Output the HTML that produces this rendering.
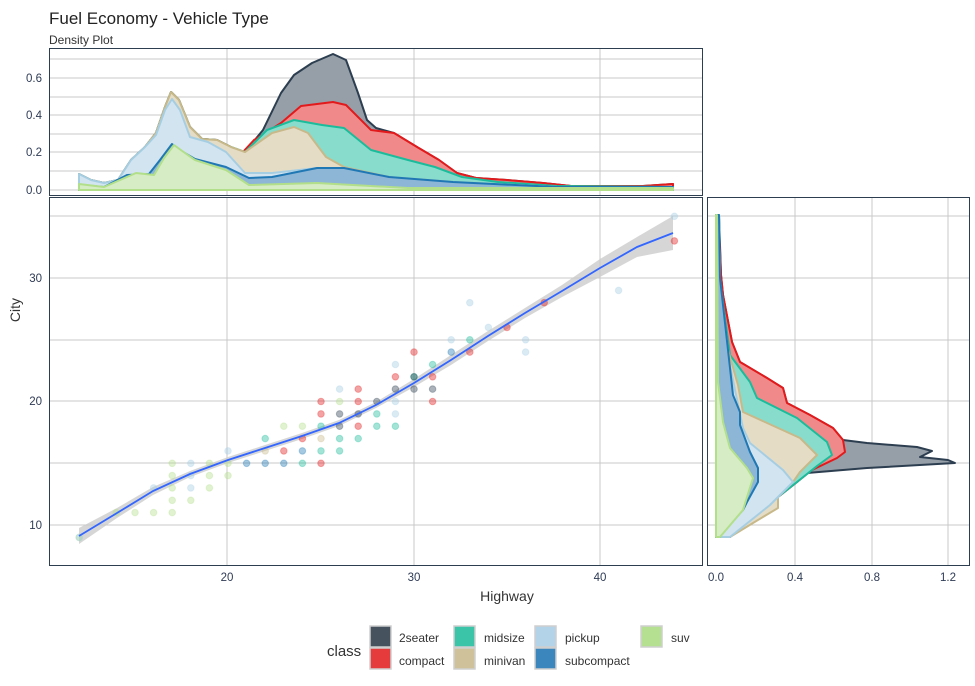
<!DOCTYPE html>
<html><head><meta charset="utf-8"><style>
body{margin:0;background:#fff;}
svg{display:block;font-family:"Liberation Sans",Arial,sans-serif;}
</style></head><body>
<svg id="s" width="975" height="686" viewBox="0 0 975 686" xmlns="http://www.w3.org/2000/svg">
<rect width="975" height="686" fill="#fff"/>
<text x="49" y="24" font-size="17" fill="#222">Fuel Economy - Vehicle Type</text>
<text x="49" y="44" font-size="12" fill="#333">Density Plot</text>

<!-- TOP PANEL -->
<g stroke="#c8c8c8" stroke-width="1">
<line x1="49" x2="702" y1="59" y2="59"/><line x1="49" x2="702" y1="78" y2="78"/><line x1="49" x2="702" y1="97" y2="97"/><line x1="49" x2="702" y1="115" y2="115"/><line x1="49" x2="702" y1="134" y2="134"/><line x1="49" x2="702" y1="152" y2="152"/><line x1="49" x2="702" y1="171" y2="171"/><line x1="49" x2="702" y1="190" y2="190"/>
<line x1="227" x2="227" y1="48" y2="195"/><line x1="414" x2="414" y1="48" y2="195"/><line x1="600" x2="600" y1="48" y2="195"/>
</g>
<g stroke-width="2" stroke-linejoin="round">
<polygon fill="#969fa8" stroke="#2c3e50" points="79,190 79,174 91,180 104,183 118,180 131,160 145,147 156,133 165,107 171,92 179,100 190,127 202,139 217,140 231,147 242,153 249,147 263,130 281,93 294,75 312,63 333,54 346,60 358,93 367,120 376,128 394,133 417,147 439,160 457,173 476,178 507,180 543,183 571,186 643,186 673,184 673,190"/>
<polygon fill="#f08a8a" stroke="#e31a1c" points="79,190 79,174 91,180 104,183 118,180 131,160 145,147 156,133 165,107 171,92 179,100 190,127 202,139 217,140 231,147 242,153 254,140 281,123 301,106 333,102 346,105 371,130 394,133 417,147 439,160 457,173 476,178 507,180 543,183 571,186 643,186 673,184 673,190"/>
<polygon fill="#88dccb" stroke="#1abc9c" points="79,190 79,174 91,180 104,183 118,180 131,160 145,147 156,133 165,107 171,92 179,100 190,127 202,139 217,140 231,147 245,152 267,130 294,120 322,125 344,128 371,150 408,160 435,167 462,177 498,182 557,186 673,187 673,190"/>
<polygon fill="#e5dcc6" stroke="#c8b98a" points="79,190 79,174 91,180 104,183 118,180 131,160 145,147 156,133 165,107 171,92 179,100 190,127 202,139 217,140 231,147 245,152 272,133 294,127 308,133 326,157 344,167 389,177 453,182 557,187 673,187 673,190"/>
<polygon fill="#d2e4f0" stroke="#a6cee3" points="79,190 79,174 91,180 104,183 118,180 131,160 145,147 156,135 165,110 172,99 180,110 190,137 208,142 226,152 245,173 272,173 317,168 344,168 389,177 453,182 557,187 673,187 673,190"/>
<polygon fill="#8db5d6" stroke="#1f78b4" points="79,190 79,185 104,187 127,175 149,174 160,160 172,144 183,152 195,159 226,167 249,178 272,177 317,168 344,168 389,177 453,182 557,187 673,187 673,190"/>
<polygon fill="#d6ecc4" stroke="#b2df8a" points="79,190 79,184 104,187 120,180 136,173 154,175 164,158 174,145 185,153 195,160 226,170 249,185 317,183 408,188 673,188 673,190"/>
</g>
<rect x="49.5" y="48.5" width="653" height="147" fill="none" stroke="#2c3e50" stroke-width="1"/>
<g font-size="11.5" fill="#2e3b55" text-anchor="end">
<text x="42" y="194">0.0</text><text x="42" y="156">0.2</text><text x="42" y="119">0.4</text><text x="42" y="82">0.6</text>
</g>

<!-- MAIN PANEL -->
<g stroke="#c8c8c8" stroke-width="1">
<line x1="49" x2="702" y1="216" y2="216"/><line x1="49" x2="702" y1="278" y2="278"/><line x1="49" x2="702" y1="340" y2="340"/><line x1="49" x2="702" y1="401" y2="401"/><line x1="49" x2="702" y1="463" y2="463"/><line x1="49" x2="702" y1="525" y2="525"/>
<line x1="227" x2="227" y1="197" y2="566"/><line x1="414" x2="414" y1="197" y2="566"/><line x1="600" x2="600" y1="197" y2="566"/>
</g>
<polygon fill="#cccccc" fill-opacity="0.8" points="79,528 117,508 153,487 190,471 228,457 265,445 302,433 339,420 376,402 414,379 451,355 488,331 525,308 562,285 600,259 637,237 673,216 673,250 637,257 600,277 562,297 525,318 488,341 451,365 414,387 376,408 339,426 302,439 265,451 228,463 190,477 153,495 117,518 79,544"/>
<g id="pts"></g>
<polyline fill="none" stroke="#3366ff" stroke-width="1.8" points="79,536 117,513 153,491 190,474 228,460 265,448 302,436 339,423 376,405 414,383 451,360 488,336 525,313 562,291 600,268 637,247 673,233"/>
<rect x="49.5" y="197.5" width="653" height="368" fill="none" stroke="#2c3e50" stroke-width="1"/>
<g font-size="11.5" fill="#2e3b55" text-anchor="end">
<text x="42" y="529">10</text><text x="42" y="405">20</text><text x="42" y="282">30</text>
</g>
<g font-size="11.5" fill="#2e3b55" text-anchor="middle">
<text x="227" y="581">20</text><text x="414" y="581">30</text><text x="600" y="581">40</text>
</g>
<text x="507" y="601" font-size="14" fill="#333" text-anchor="middle">Highway</text>
<text x="20" y="310" font-size="14" fill="#333" text-anchor="middle" transform="rotate(-90 20 310)">City</text>

<!-- RIGHT PANEL -->
<g stroke="#c8c8c8" stroke-width="1">
<line x1="707" x2="970" y1="216" y2="216"/><line x1="707" x2="970" y1="278" y2="278"/><line x1="707" x2="970" y1="340" y2="340"/><line x1="707" x2="970" y1="401" y2="401"/><line x1="707" x2="970" y1="463" y2="463"/><line x1="707" x2="970" y1="525" y2="525"/>
<line x1="795" x2="795" y1="197" y2="566"/><line x1="872" x2="872" y1="197" y2="566"/><line x1="948" x2="948" y1="197" y2="566"/>
</g>
<g stroke-width="2" stroke-linejoin="round">
<polygon fill="#969fa8" stroke="#2c3e50" points="716,215 719,215 721,275 723,295 732,342 740,362 767,378 783,388 787,403 810,415 833,428 843,440 867,443 917,447 932,451 920,457 948,460 955,463 867,468 807,473 797,482 778,497 730,537 716,537"/>
<polygon fill="#f08a8a" stroke="#e31a1c" points="716,227 719,227 721,275 723,295 732,342 740,362 767,378 783,388 787,403 810,415 833,428 843,440 845,452 837,458 812,470 797,482 778,497 730,537 716,537"/>
<polygon fill="#88dccb" stroke="#1abc9c" points="716,215 719,215 720,280 730,355 750,382 757,398 797,418 827,442 832,455 817,466 797,482 778,497 730,537 716,537"/>
<polygon fill="#e5dcc6" stroke="#c8b98a" points="716,215 719,215 720,280 728,350 738,385 743,412 800,438 817,455 800,472 793,482 778,497 778,508 753,523 730,537 716,537"/>
<polygon fill="#d2e4f0" stroke="#a6cee3" points="716,215 719,215 720,280 727,350 735,390 743,428 750,443 783,470 793,482 778,497 770,505 745,525 730,537 716,537"/>
<polygon fill="#8db5d6" stroke="#1f78b4" points="716,215 719,215 720,278 733,395 740,412 740,425 750,452 758,468 758,482 747,502 743,510 723,532 720,537 716,537"/>
<polygon fill="#d6ecc4" stroke="#b2df8a" points="716,215 717,215 718,382 723,422 730,448 747,468 753,478 743,510 720,537 716,537"/>
</g>
<rect x="707.5" y="197.5" width="262" height="368" fill="none" stroke="#2c3e50" stroke-width="1"/>
<g font-size="11.5" fill="#2e3b55" text-anchor="middle">
<text x="716" y="581">0.0</text><text x="795" y="581">0.4</text><text x="872" y="581">0.8</text><text x="948" y="581">1.2</text>
</g>

<!-- LEGEND -->
<text x="327" y="656" font-size="15" fill="#333">class</text>
<g stroke="#cfcfcf" stroke-width="1.5">
<rect x="370" y="626" width="21" height="21" fill="#46525e"/>
<rect x="370" y="648" width="21" height="21" fill="#e53b3d"/>
<rect x="454" y="626" width="21" height="21" fill="#3cc4a8"/>
<rect x="454" y="648" width="21" height="21" fill="#cfc29b"/>
<rect x="535" y="626" width="21" height="21" fill="#b2d3e8"/>
<rect x="535" y="648" width="21" height="21" fill="#3c86be"/>
<rect x="641" y="626" width="21" height="21" fill="#b6e091"/>
</g>
<g font-size="12" fill="#333">
<text x="399" y="642">2seater</text><text x="399" y="665">compact</text>
<text x="484" y="642">midsize</text><text x="484" y="665">minivan</text>
<text x="565" y="642">pickup</text><text x="565" y="665">subcompact</text>
<text x="671" y="642">suv</text>
</g>
</svg>
<script>
var C={t:"#2c3e50",c:"#e31a1c",m:"#1abc9c",v:"#c8b98a",p:"#a6cee3",s:"#1f78b4",u:"#b2df8a"};
var P=[[12,9,"u"],[12,9,"p"],[14,11,"u"],[15,11,"u"],[16,11,"u"],[17,11,"u"],[16,13,"p"],[17,12,"u"],[18,12,"u"],[17,13,"u"],[18,13,"p"],[19,13,"u"],[17,14,"u"],[18,14,"p"],[19,14,"u"],[20,14,"u"],[17,15,"u"],[18,15,"p"],[19,15,"u"],[20,15,"u"],[20,16,"p"],[21,15,"s"],[22,15,"s"],[23,15,"s"],[24,15,"m"],[25,15,"c"],[22,16,"v"],[23,16,"c"],[24,16,"s"],[25,16,"m"],[26,16,"m"],[22,17,"m"],[24,17,"c"],[25,17,"v"],[26,17,"m"],[27,17,"m"],[23,18,"u"],[24,18,"u"],[25,18,"m"],[26,18,"t"],[27,18,"c"],[28,18,"m"],[29,18,"m"],[25,19,"c"],[26,19,"t"],[27,19,"t"],[28,19,"m"],[29,19,"p"],[25,20,"c"],[26,20,"u"],[27,20,"c"],[28,20,"t"],[29,20,"p"],[26,21,"p"],[27,21,"c"],[29,21,"t"],[30,21,"t"],[29,22,"c"],[30,22,"m"],[29,23,"p"],[30,24,"c"],[31,23,"m"],[31,22,"c"],[31,21,"t"],[31,20,"c"],[32,25,"p"],[32,24,"s"],[33,28,"p"],[33,24,"c"],[34,26,"p"],[35,26,"c"],[36,25,"p"],[36,24,"p"],[37,28,"c"],[41,29,"p"],[44,35,"p"],[44,33,"c"],[33,25,"m"],[30,22,"t"]];
var g=document.getElementById("pts"),h="";
P.forEach(function(q){var x=228+(q[0]-20)*18.6,y=525-(q[1]-10)*12.35;
h+='<circle cx="'+x.toFixed(1)+'" cy="'+y.toFixed(1)+'" r="3.3" fill="'+C[q[2]]+'" fill-opacity="0.4" stroke="'+C[q[2]]+'" stroke-opacity="0.3"/>';});
g.innerHTML=h;
</script>
</body></html>
